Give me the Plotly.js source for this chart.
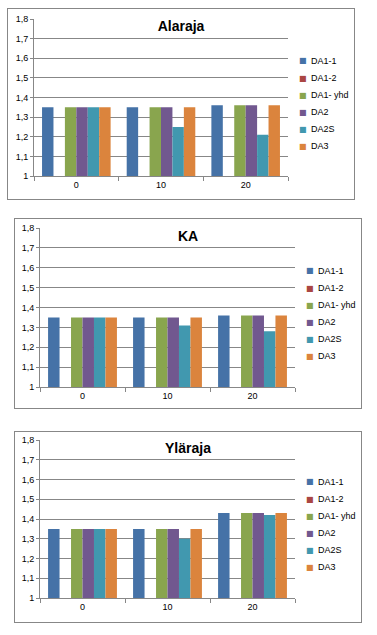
<!DOCTYPE html>
<html><head><meta charset="utf-8">
<script src="https://cdn.plot.ly/plotly-3.0.1.min.js"></script>
<style>
body{margin:0;background:#fff;}
.box{position:absolute;border:1px solid #878787;}
.box div.p{position:absolute;left:0;top:0;}
</style>
</head><body>
<div class="box" style="left:7px;top:8px;width:346px;height:190px"><div class="p" id="c1"></div></div>
<div class="box" style="left:14px;top:218px;width:346px;height:189px"><div class="p" id="c2"></div></div>
<div class="box" style="left:14px;top:431px;width:346px;height:190px"><div class="p" id="c3"></div></div>
<script>
const categories = ['0', '10', '20'];
const seriesNames = ['DA1-1', 'DA1-2', 'DA1- yhd', 'DA2', 'DA2S', 'DA3'];
const seriesColors = ['#4572A7', '#AA4643', '#89A54E', '#71588F', '#4198AF', '#DB843D'];
const yTickVals = [1, 1.1, 1.2, 1.3, 1.4, 1.5, 1.6, 1.7, 1.8];

const titleAlaraja = 'Alaraja';
const alaraja_DA1_1 = [1.35, 1.35, 1.36];
const alaraja_DA1_2 = [null, null, null];
const alaraja_DA1_yhd = [1.35, 1.35, 1.36];
const alaraja_DA2 = [1.35, 1.35, 1.36];
const alaraja_DA2S = [1.35, 1.25, 1.21];
const alaraja_DA3 = [1.35, 1.35, 1.36];

const titleKA = 'KA';
const ka_DA1_1 = [1.35, 1.35, 1.36];
const ka_DA1_2 = [null, null, null];
const ka_DA1_yhd = [1.35, 1.35, 1.36];
const ka_DA2 = [1.35, 1.35, 1.36];
const ka_DA2S = [1.35, 1.31, 1.28];
const ka_DA3 = [1.35, 1.35, 1.36];

const titleYlaraja = 'Yläraja';
const ylaraja_DA1_1 = [1.35, 1.35, 1.43];
const ylaraja_DA1_2 = [null, null, null];
const ylaraja_DA1_yhd = [1.35, 1.35, 1.43];
const ylaraja_DA2 = [1.35, 1.35, 1.43];
const ylaraja_DA2S = [1.35, 1.30, 1.42];
const ylaraja_DA3 = [1.35, 1.35, 1.43];

const FONT = 'Liberation Sans, Arial, sans-serif';
const GRID = '#878787';

function makeChart(id, title, seriesVals, d) {
  const traces = seriesVals.map((vals, i) => ({
    type: 'bar', x: categories, y: vals, name: seriesNames[i],
    marker: {color: seriesColors[i], line: {width: 0}},
    showlegend: false, hoverinfo: 'none'
  }));
  const pw = d.w - d.l - d.r, ph = d.h - d.t - d.b;
  const px = v => (v - d.l) / pw;
  const py = v => 1 - (v - d.t) / ph;
  // legend (Excel-style: small swatch, label close to it)
  const ann = [];
  seriesNames.forEach((n, i) => {
    const yc = d.legY + 17 * i;
    ann.push({xref: 'paper', yref: 'paper', x: px(d.legX), y: py(yc), xanchor: 'center', yanchor: 'middle',
              text: '■', showarrow: false, font: {family: 'DejaVu Sans', size: 8, color: seriesColors[i]}});
    ann.push({xref: 'paper', yref: 'paper', x: px(d.legX + 6), y: py(yc), xanchor: 'left', yanchor: 'middle',
              text: n, showarrow: false, font: {family: FONT, size: 9, color: '#000'}});
  });
  const layout = {
    width: d.w, height: d.h,
    margin: {l: d.l, r: d.r, t: d.t, b: d.b, pad: 0},
    paper_bgcolor: '#fff', plot_bgcolor: '#fff',
    separators: ', ',
    showlegend: false,
    font: {family: FONT, size: 9, color: '#000'},
    title: {text: '<b>' + title + '</b>', font: {family: FONT, size: 14, color: '#000'},
            x: 0.5, xref: 'container', xanchor: 'center', y: d.ty, yref: 'container', yanchor: 'middle'},
    barmode: 'group', bargap: 0.19, bargroupgap: 0,
    xaxis: {type: 'category', showgrid: false, showline: true, linecolor: GRID, linewidth: 1,
            ticks: 'outside', ticklen: 4, tickcolor: GRID, tickson: 'boundaries',
            tickfont: {family: FONT, size: 9, color: '#000'}, fixedrange: true, zeroline: false},
    yaxis: {range: [1, 1.8], tickvals: yTickVals, showgrid: true, gridcolor: GRID, gridwidth: 1,
            showline: true, linecolor: GRID, linewidth: 1, ticks: 'outside', ticklen: 3, tickcolor: GRID,
            tickfont: {family: FONT, size: 9, color: '#000'}, zeroline: false, fixedrange: true},
    annotations: ann
  };
  Plotly.newPlot(id, traces, layout, {staticPlot: true, displayModeBar: false});
}

makeChart('c1', titleAlaraja,
  [alaraja_DA1_1, alaraja_DA1_2, alaraja_DA1_yhd, alaraja_DA2, alaraja_DA2S, alaraja_DA3],
  {w: 346, h: 190, l: 26, r: 66, t: 10, b: 23, ty: 0.91, legX: 295, legY: 52});
makeChart('c2', titleKA,
  [ka_DA1_1, ka_DA1_2, ka_DA1_yhd, ka_DA2, ka_DA2S, ka_DA3],
  {w: 346, h: 189, l: 25, r: 66, t: 9, b: 21, ty: 0.91, legX: 295, legY: 52});
makeChart('c3', titleYlaraja,
  [ylaraja_DA1_1, ylaraja_DA1_2, ylaraja_DA1_yhd, ylaraja_DA2, ylaraja_DA2S, ylaraja_DA3],
  {w: 346, h: 190, l: 25, r: 66, t: 8, b: 24, ty: 0.916, legX: 295, legY: 50});
</script>
</body></html>
